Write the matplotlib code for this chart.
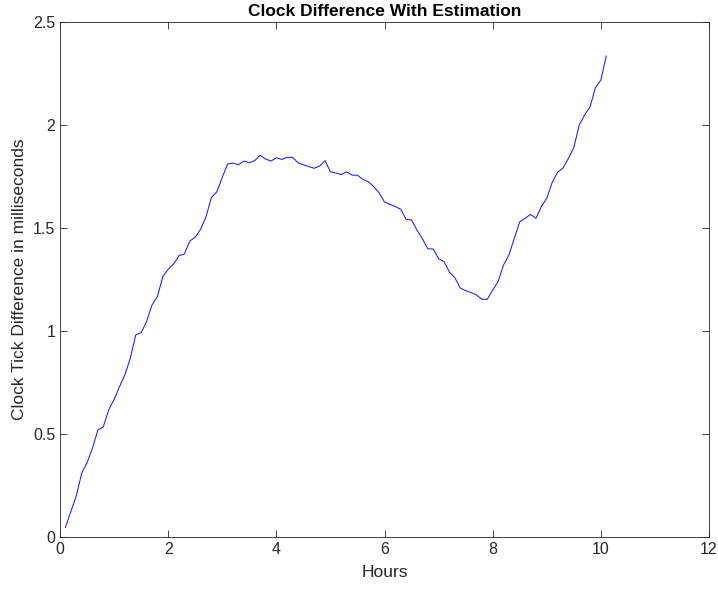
import matplotlib
matplotlib.use('Agg')
import matplotlib.pyplot as plt

# clock tick difference sampled roughly every 6 minutes
hours = [0.1, 0.2, 0.3, 0.4, 0.5, 0.6, 0.7, 0.8, 0.9, 1.0,
         1.1, 1.2, 1.3, 1.4, 1.5, 1.6, 1.7, 1.8, 1.9, 2.0,
         2.1, 2.2, 2.3, 2.4, 2.5, 2.6, 2.7, 2.8, 2.9, 3.0,
         3.1, 3.2, 3.3, 3.4, 3.5, 3.6, 3.7, 3.8, 3.9, 4.0,
         4.1, 4.2, 4.3, 4.4, 4.5, 4.6, 4.7, 4.8, 4.9, 5.0,
         5.1, 5.2, 5.3, 5.4, 5.5, 5.6, 5.7, 5.8, 5.9, 6.0,
         6.1, 6.2, 6.3, 6.4, 6.5, 6.6, 6.7, 6.8, 6.9, 7.0,
         7.1, 7.2, 7.3, 7.4, 7.5, 7.6, 7.7, 7.8, 7.9, 8.0,
         8.1, 8.2, 8.3, 8.4, 8.5, 8.6, 8.7, 8.8, 8.9, 9.0,
         9.1, 9.2, 9.3, 9.4, 9.5, 9.6, 9.7, 9.8, 9.9, 10.0,
         10.1]
diff_ms = [0.047, 0.123, 0.199, 0.309, 0.361, 0.431, 0.519, 0.535, 0.617, 0.668,
           0.730, 0.788, 0.868, 0.981, 0.992, 1.045, 1.126, 1.167, 1.264, 1.300,
           1.325, 1.366, 1.374, 1.437, 1.455, 1.494, 1.555, 1.649, 1.676, 1.746,
           1.811, 1.815, 1.807, 1.825, 1.817, 1.827, 1.853, 1.835, 1.825, 1.841,
           1.833, 1.843, 1.843, 1.817, 1.807, 1.798, 1.790, 1.801, 1.827, 1.773,
           1.767, 1.759, 1.773, 1.757, 1.756, 1.736, 1.725, 1.701, 1.671, 1.626,
           1.615, 1.604, 1.591, 1.542, 1.539, 1.490, 1.448, 1.399, 1.398, 1.351,
           1.337, 1.286, 1.259, 1.209, 1.196, 1.187, 1.175, 1.154, 1.154, 1.199,
           1.240, 1.320, 1.369, 1.450, 1.530, 1.547, 1.566, 1.547, 1.604, 1.645,
           1.721, 1.771, 1.791, 1.838, 1.890, 2.000, 2.049, 2.089, 2.181, 2.218,
           2.335]

plt.rcParams['font.family'] = ['Liberation Sans', 'DejaVu Sans']
dark = '#262626'

fig = plt.figure(figsize=(7.18, 5.90), dpi=100)
ax = fig.add_axes([0.0836, 0.0898, 0.9039, 0.8729])
ax.plot(hours, diff_ms, color='#1a1aff', linewidth=0.75)

ax.set_xlim(0, 12)
ax.set_ylim(0, 2.5)
ax.set_xticks([0, 2, 4, 6, 8, 10, 12])
ax.set_yticks([0, 0.5, 1, 1.5, 2, 2.5])
ax.set_yticklabels(['0', '0.5', '1', '1.5', '2', '2.5'])
ax.tick_params(direction='in', top=True, right=True, length=5, width=0.6,
               colors=dark, labelsize=11.5)
for s in ax.spines.values():
    s.set_color(dark)
    s.set_linewidth(0.6)

ax.set_xlabel('Hours', fontsize=12.5, color=dark, labelpad=6)
ax.set_ylabel('Clock Tick Difference in milliseconds', fontsize=12.5, color=dark, labelpad=4)
ax.set_title('Clock Difference With Estimation', fontsize=12.5, fontweight='bold',
             color='black', pad=4)

fig.savefig('out.png', dpi=100)
